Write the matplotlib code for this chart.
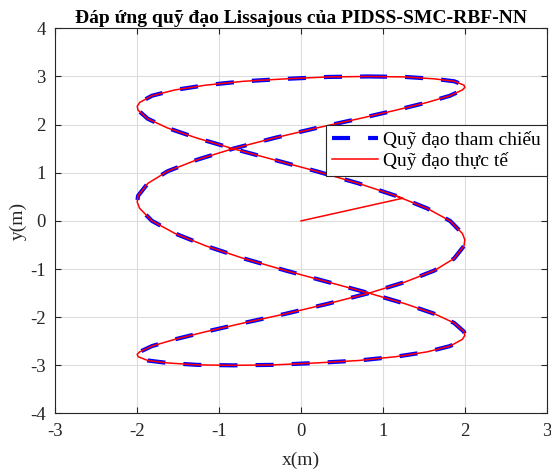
import matplotlib.pyplot as plt

# reference Lissajous trajectory (one full loop)
x_ref = [0.83, 1.27, 1.63, 1.87, 1.99, 2.00, 1.97, 1.82, 1.54, 1.16, 0.70, 0.19, -0.33,
         -0.83, -1.27, -1.63, -1.87, -1.99, -2.00, -1.97, -1.82, -1.54, -1.16, -0.70, -0.19, 0.33,
         0.83, 1.27, 1.63, 1.87, 1.99, 2.00, 1.97, 1.82, 1.54, 1.16, 0.70, 0.19, -0.33,
         -0.83, -1.27, -1.63, -1.87, -1.99, -2.00, -1.97, -1.82, -1.54, -1.16, -0.70, -0.19, 0.33,
         0.83, 1.27, 1.63, 1.87, 1.99, 2.00, 1.97, 1.82, 1.54, 1.16, 0.70, 0.19, -0.33,
         -0.83, -1.27, -1.63, -1.87, -1.99, -2.00, -1.97, -1.82, -1.54, -1.16, -0.70, -0.19, 0.33,
         0.83]
y_ref = [3.00, 2.99, 2.95, 2.90, 2.82, 2.77, 2.72, 2.60, 2.46, 2.30, 2.12, 1.93, 1.72,
         1.50, 1.27, 1.03, 0.78, 0.52, 0.39, 0.26, 0.00, -0.26, -0.52, -0.78, -1.03, -1.27,
         -1.50, -1.72, -1.93, -2.12, -2.30, -2.38, -2.46, -2.60, -2.72, -2.82, -2.90, -2.95, -2.99,
         -3.00, -2.99, -2.95, -2.90, -2.82, -2.77, -2.72, -2.60, -2.46, -2.30, -2.12, -1.93, -1.72,
         -1.50, -1.27, -1.03, -0.78, -0.52, -0.39, -0.26, 0.00, 0.26, 0.52, 0.78, 1.03, 1.27,
         1.50, 1.72, 1.93, 2.12, 2.30, 2.38, 2.46, 2.60, 2.72, 2.82, 2.90, 2.95, 2.99,
         3.00]

# actual trajectory: transient from the origin, then it sits on the reference
x_start = [0.0, 1.24]
y_start = [0.0, 0.47]
join = 61

xticks = [-3, -2, -1, 0, 1, 2, 3]
yticks = [-4, -3, -2, -1, 0, 1, 2, 3, 4]

plt.rcParams['font.family'] = ['Liberation Serif', 'DejaVu Serif']
plt.rcParams['lines.scale_dashes'] = False
plt.rcParams['axes.unicode_minus'] = False

x_act = x_start + x_ref[join:-1] + x_ref[:join + 1]
y_act = y_start + y_ref[join:-1] + y_ref[:join + 1]

fig = plt.figure(figsize=(5.51, 4.71), dpi=100)
ax = fig.add_axes([0.1004, 0.1221, 0.8918, 0.8178])

ax.plot(x_ref, y_ref, color='#0000ff', lw=3.0, dashes=(13, 13), label='Quỹ đạo tham chiếu')
ax.plot(x_act, y_act, color='#ff0000', lw=1.1, label='Quỹ đạo thực tế')

ax.set_xlim(-3, 3)
ax.set_ylim(-4, 4)
ax.set_xticks(xticks)
ax.set_yticks(yticks)
ax.grid(True, color='#dcdcdc', lw=0.8)
ax.set_axisbelow(True)
dark = '#262626'
ax.tick_params(direction='in', top=True, right=True, length=4, width=0.8,
               labelsize=13.5, colors=dark, pad=7)
for sp in ax.spines.values():
    sp.set_color(dark)
    sp.set_linewidth(0.8)

ax.set_xlabel('x(m)', fontsize=14, color=dark, labelpad=8)
ax.set_ylabel('y(m)', fontsize=14, color=dark, labelpad=2)
ax.set_title('Đáp ứng quỹ đạo Lissajous của PIDSS-SMC-RBF-NN', fontsize=14,
             fontweight='bold', pad=4)

leg = ax.legend(loc='upper right', bbox_to_anchor=(1.0, 0.748), borderaxespad=0,
                fontsize=14, fancybox=False, framealpha=1, edgecolor=dark,
                handlelength=2.4, handletextpad=0.25, borderpad=0.3, labelspacing=0.15)
leg.get_frame().set_linewidth(0.8)

plt.savefig('out.png', dpi=100)
